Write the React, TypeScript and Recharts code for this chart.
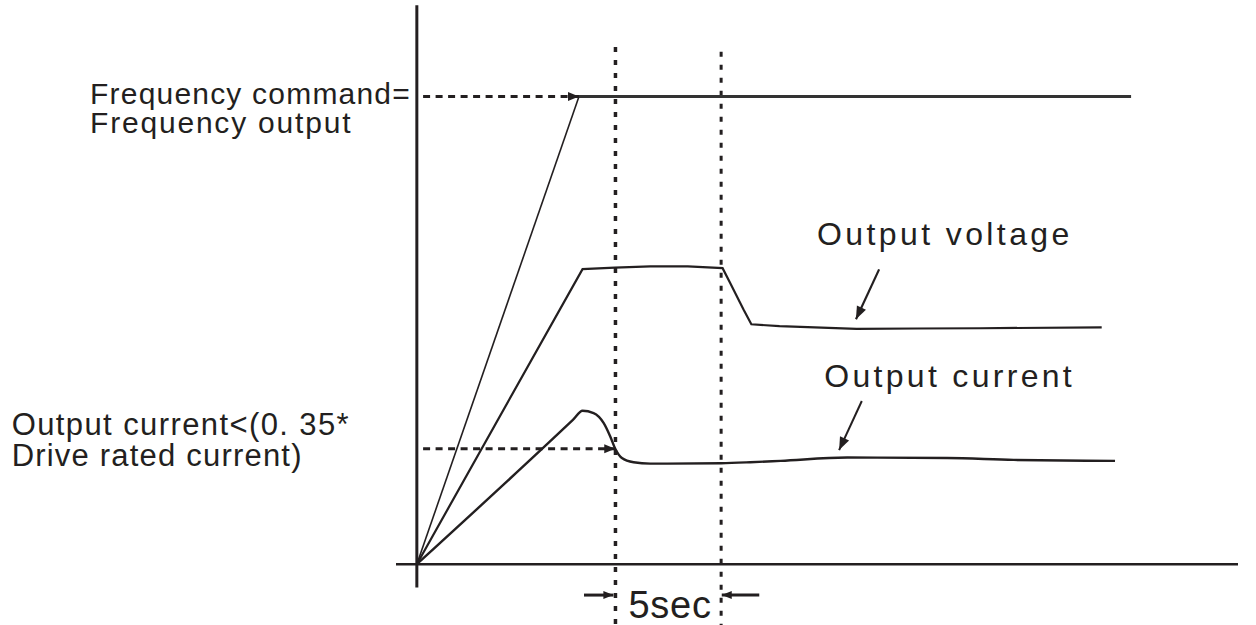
import { ComposedChart, Line, XAxis, YAxis, ReferenceLine, ReferenceDot } from 'recharts';

// time in seconds on x, percent of command on y
const frequency = [
  { x: 0, y: 0 },
  { x: 7.78, y: 100 },
  { x: 34.27, y: 100 },
];

const voltage = [
  { x: 0, y: 0 },
  { x: 7.95, y: 63.1 },
  { x: 9.5, y: 63.4 },
  { x: 11.2, y: 63.7 },
  { x: 13, y: 63.7 },
  { x: 14.67, y: 63.3 },
  { x: 15.04, y: 60.1 },
  { x: 15.68, y: 54.4 },
  { x: 16.05, y: 51.3 },
  { x: 17.4, y: 50.9 },
  { x: 21.1, y: 50.3 },
  { x: 24, y: 50.4 },
  { x: 27.05, y: 50.45 },
  { x: 32.86, y: 50.66 },
];

const current = [
  { x: 0, y: 0 },
  { x: 7.5, y: 30.9 },
  { x: 7.95, y: 32.8 },
  { x: 8.48, y: 32.3 },
  { x: 8.96, y: 30.2 },
  { x: 9.28, y: 27.3 },
  { x: 9.52, y: 24.7 },
  { x: 9.84, y: 22.7 },
  { x: 10.4, y: 21.8 },
  { x: 11.2, y: 21.5 },
  { x: 14.6, y: 21.6 },
  { x: 16.0, y: 21.8 },
  { x: 17.46, y: 22.1 },
  { x: 20.65, y: 22.8 },
  { x: 25.45, y: 22.7 },
  { x: 28.64, y: 22.3 },
  { x: 33.5, y: 22.1 },
];

const commandArrow = [{ x: 0.3, y: 100 }, { x: 7.78, y: 100 }];
const limitArrow = [{ x: 0.3, y: 24.7 }, { x: 9.52, y: 24.7 }];
const voltageArrow = [{ x: 22.18, y: 63.05 }, { x: 21.07, y: 52.36 }];
const currentArrow = [{ x: 21.35, y: 34.9 }, { x: 20.26, y: 24.4 }];
const leftTimeArrow = [{ x: 8.02, y: -6.6 }, { x: 9.43, y: -6.6 }];
const rightTimeArrow = [{ x: 16.43, y: -6.6 }, { x: 14.63, y: -6.6 }];

const markerTimes = [9.53, 14.6];

const labels = [
  { text: 'Frequency command=', x: -15.68, y: 98.5 },
  { text: 'Frequency output', x: -15.68, y: 92.3 },
  { text: 'Output current<(0. 35*', x: -19.44, y: 27.6 },
  { text: 'Drive rated current)', x: -19.44, y: 21.0 },
  { text: 'Output voltage', x: 19.2, y: 68.2 },
  { text: 'Output current', x: 19.55, y: 37.95 },
  { text: '5sec', x: 10.15, y: -11.4 },
];
const labelStyle = [
  { size: 30, spacing: 1.2 },
  { size: 30, spacing: 1.8 },
  { size: 31, spacing: 1.4 },
  { size: 31, spacing: 1.2 },
  { size: 32, spacing: 3.4 },
  { size: 32, spacing: 3.3 },
  { size: 38, spacing: 0.8 },
];

const INK = '#231f20';
const FONT = '"Liberation Sans", Arial, sans-serif';

// arrow head at the last point, direction taken from the previous point
const arrowDot = (len: number, half: number) => {
  let prev = { x: 0, y: 0 };
  return (props: any) => {
    const { cx, cy, index } = props;
    if (index === 0) {
      prev = { x: cx, y: cy };
      return <g key={`a-${index}`} />;
    }
    const a = Math.atan2(cy - prev.y, cx - prev.x);
    const bx = cx - len * Math.cos(a);
    const by = cy - len * Math.sin(a);
    const px = -Math.sin(a) * half;
    const py = Math.cos(a) * half;
    const pts = `${cx},${cy} ${bx + px},${by + py} ${bx - px},${by - py}`;
    return <polygon key={`a-${index}`} points={pts} fill={INK} stroke="none" />;
  };
};

const TextAt = (props: any) => {
  const { viewBox, text, size, spacing } = props;
  return (
    <text x={viewBox.x} y={viewBox.y} fontSize={size} letterSpacing={spacing} fill={INK} fontFamily={FONT}>
      {text}
    </text>
  );
};

const App = () => {
  return (
    <div style={{ position: 'absolute', left: 0, top: 0, background: '#fff' }}>
      <ComposedChart width={1256} height={625} margin={{ top: 3, right: 18, bottom: 0, left: 396 }}>
        <XAxis type="number" dataKey="x" domain={[-1, 39.4]} hide allowDataOverflow />
        <YAxis type="number" dataKey="y" domain={[-13, 120]} hide allowDataOverflow />

        <ReferenceLine segment={[{ x: 0, y: -5 }, { x: 0, y: 119.5 }]} stroke={INK} strokeWidth={3} />
        <ReferenceLine segment={[{ x: -1, y: 0 }, { x: 39.4, y: 0 }]} stroke={INK} strokeWidth={2.5} />
        {markerTimes.map((t, i) => (
          <ReferenceLine key={t} segment={[{ x: t, y: i === 0 ? 110.6 : 109.6 }, { x: t, y: -13 }]}
            stroke={INK} strokeWidth={i === 0 ? 3.5 : 3} strokeDasharray="5 8" />
        ))}

        <Line data={frequency.slice(0, 2)} dataKey="y" type="linear" stroke={INK} strokeWidth={1.6}
          dot={false} activeDot={false} isAnimationActive={false} />
        <Line data={frequency.slice(1)} dataKey="y" type="linear" stroke="#333" strokeWidth={3}
          dot={false} activeDot={false} isAnimationActive={false} />
        <Line data={voltage} dataKey="y" type="linear" stroke={INK} strokeWidth={2.2}
          dot={false} activeDot={false} isAnimationActive={false} />
        <Line data={current} dataKey="y" type="monotone" stroke={INK} strokeWidth={2.4}
          dot={false} activeDot={false} isAnimationActive={false} />

        <Line data={commandArrow} dataKey="y" type="linear" stroke={INK} strokeWidth={3} strokeDasharray="7 5.5"
          dot={arrowDot(11, 4.5)} activeDot={false} isAnimationActive={false} />
        <Line data={limitArrow} dataKey="y" type="linear" stroke={INK} strokeWidth={3} strokeDasharray="7 5.5"
          dot={arrowDot(11, 4.5)} activeDot={false} isAnimationActive={false} />
        <Line data={voltageArrow} dataKey="y" type="linear" stroke={INK} strokeWidth={2.2}
          dot={arrowDot(13, 5)} activeDot={false} isAnimationActive={false} />
        <Line data={currentArrow} dataKey="y" type="linear" stroke={INK} strokeWidth={2}
          dot={arrowDot(13, 5)} activeDot={false} isAnimationActive={false} />
        <Line data={leftTimeArrow} dataKey="y" type="linear" stroke={INK} strokeWidth={3}
          dot={arrowDot(10, 4)} activeDot={false} isAnimationActive={false} />
        <Line data={rightTimeArrow} dataKey="y" type="linear" stroke={INK} strokeWidth={3}
          dot={arrowDot(10, 4)} activeDot={false} isAnimationActive={false} />

        {labels.map((l, i) => (
          <ReferenceDot key={l.text} x={l.x} y={l.y} r={0} fill="none" stroke="none" ifOverflow="visible"
            label={(p: any) => <TextAt {...p} text={l.text} size={labelStyle[i].size} spacing={labelStyle[i].spacing} />} />
        ))}
      </ComposedChart>
    </div>
  );
};

export default App;
